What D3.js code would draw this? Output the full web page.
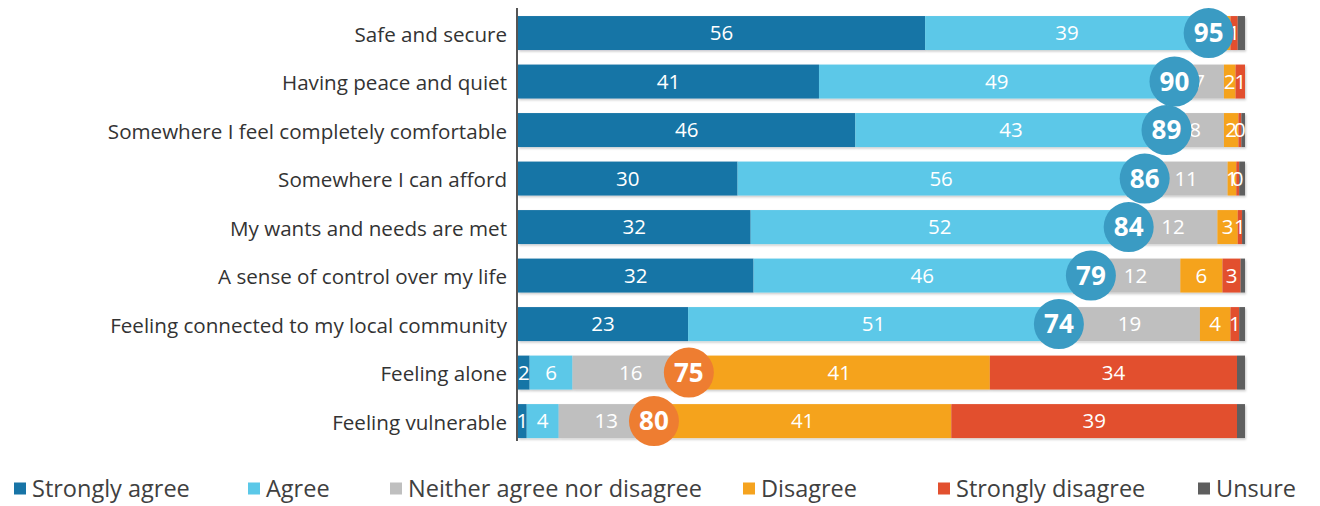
<!DOCTYPE html>
<html>
<head>
<meta charset="utf-8">
<script src="https://cdn.jsdelivr.net/npm/d3@7"></script>
<style>
  html, body { margin: 0; padding: 0; background: #ffffff; }
  svg { display: block; font-family: "Open Sans", Lato, sans-serif; }
</style>
</head>
<body>
<svg id="chart" width="1320" height="506"></svg>
<script>
// Statements about what "home" means, and how strongly respondents agree (%)
const categories = [
  "Safe and secure",
  "Having peace and quiet",
  "Somewhere I feel completely comfortable",
  "Somewhere I can afford",
  "My wants and needs are met",
  "A sense of control over my life",
  "Feeling connected to my local community",
  "Feeling alone",
  "Feeling vulnerable"
];

const seriesNames = ["Strongly agree", "Agree", "Neither agree nor disagree", "Disagree", "Strongly disagree", "Unsure"];

const stronglyAgree    = [56,   41.4, 46.4, 30.2, 32,   32.4, 23.4, 1.6,  1.2];
const agree            = [39,   48.9, 42.8, 56,   52,   46.4, 51.0, 5.9,  4.4];
const neither          = [2,    6.8,  7.9,  11.4, 12.2, 12.3, 19.4, 16,   13.1];
const disagree         = [1,    1.6,  2.0,  1.2,  2.8,  5.8,  4.2,  41.4, 40.9];
const stronglyDisagree = [1,    1.3,  0.4,  0.4,  0.6,  2.5,  1.2,  34,   39.3];
const unsure           = [1,    0,    0.5,  0.8,  0.4,  0.6,  0.8,  1.1,  1.1];

const seriesValues = [stronglyAgree, agree, neither, disagree, stronglyDisagree, unsure];
const seriesColors = ["#1874a6", "#5bc8e8", "#bfbfbf", "#f5a31f", "#e2502f", "#5e5e5e"];
const netAgreeColor = "#3a9bc3";
const netDisagreeColor = "#ee7d31";

// Build stacked rows
const rows = categories.map((c, i) => {
  const row = { category: c };
  seriesNames.forEach((s, k) => { row[s] = seriesValues[k][i]; });
  return row;
});
const stack = d3.stack().keys(seriesNames)(rows);

const svg = d3.select("#chart");

// Drop shadow for bars
const defs = svg.append("defs");
const f = defs.append("filter").attr("id", "shadow").attr("x", "-5%").attr("y", "-20%").attr("width", "110%").attr("height", "150%");
f.append("feDropShadow").attr("dx", 1).attr("dy", 1.5).attr("stdDeviation", 0.8)
  .attr("flood-color", "#000").attr("flood-opacity", 0.22);

const x = d3.scaleLinear().domain([0, 100]).range([518, 1245]);
const y = d3.scaleBand().domain(categories).range([1.5, 452.6]).padding(0.3);
const fmt = d3.format(".0f");

// Bars
const barG = svg.append("g").attr("filter", "url(#shadow)");
stack.forEach((layer, k) => {
  barG.append("g").attr("fill", seriesColors[k])
    .selectAll("rect").data(layer.filter(d => d[1] > d[0])).join("rect")
    .attr("x", d => x(d[0]))
    .attr("y", d => y(d.data.category))
    .attr("width", d => x(d[1]) - x(d[0]))
    .attr("height", y.bandwidth());
});

// Segment value labels (all but "Unsure")
const labelG = svg.append("g").attr("fill", "#ffffff").attr("font-size", 20.5)
  .attr("text-anchor", "middle");
stack.slice(0, 5).forEach(layer => {
  labelG.selectAll(null).data(layer).join("text")
    .attr("x", d => (x(d[0]) + x(d[1])) / 2)
    .attr("y", d => y(d.data.category) + y.bandwidth() / 2)
    .attr("dy", "0.36em")
    .text(d => fmt(d[1] - d[0]));
});

// Net agree / net disagree bubbles
const nets = categories.map((c, i) => {
  const netAgree = stronglyAgree[i] + agree[i];
  const netDisagree = disagree[i] + stronglyDisagree[i];
  const isAgree = netAgree >= netDisagree;
  return {
    category: c,
    value: isAgree ? netAgree : netDisagree,
    pos: isAgree ? netAgree : netAgree + neither[i],
    color: isAgree ? netAgreeColor : netDisagreeColor
  };
});
const bub = svg.append("g").selectAll("g").data(nets).join("g")
  .attr("transform", d => `translate(${x(d.pos)},${y(d.category) + y.bandwidth() / 2})`);
bub.append("circle").attr("r", 25).attr("fill", d => d.color);
bub.append("text").attr("text-anchor", "middle").attr("dy", "0.36em")
  .attr("fill", "#fff").attr("font-size", 26).attr("font-weight", "bold")
  .text(d => fmt(d.value));

// Category axis
const axis = svg.append("g").attr("transform", `translate(${x(0) - 1},2)`)
  .call(d3.axisLeft(y).tickSize(0).tickPadding(10));
axis.select(".domain").remove();
axis.selectAll("text").attr("font-size", 20.6).attr("fill", "#333333")
  .attr("font-family", "'Open Sans', Lato, sans-serif");
svg.append("line")
  .attr("x1", x(0) - 1).attr("x2", x(0) - 1)
  .attr("y1", y(categories[0]) - 8)
  .attr("y2", y(categories[categories.length - 1]) + y.bandwidth() + 3)
  .attr("stroke", "#555555").attr("stroke-width", 2);

// Legend
const legendX = [14, 248, 390, 743, 938, 1198];
const leg = svg.append("g").selectAll("g").data(seriesNames).join("g")
  .attr("transform", (d, i) => `translate(${legendX[i]},489)`);
leg.append("rect").attr("x", 0).attr("y", -6.5).attr("width", 12).attr("height", 12)
  .attr("fill", (d, i) => seriesColors[i]);
leg.append("text").attr("x", 18).attr("dy", "0.36em").attr("font-size", 23.5)
  .attr("fill", "#404040").text(d => d);
</script>
</body>
</html>
